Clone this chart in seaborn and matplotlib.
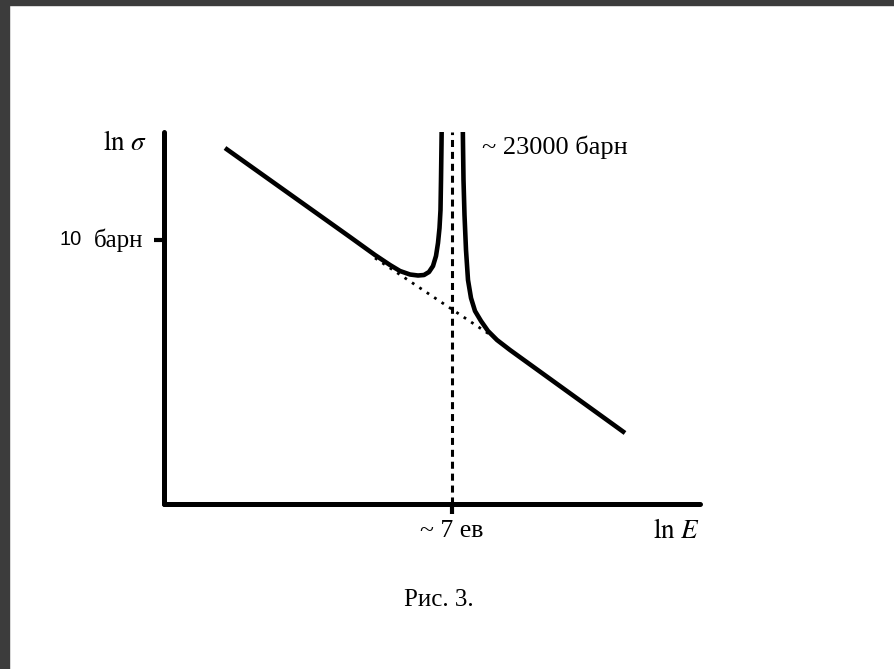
import matplotlib
matplotlib.use("Agg")
import matplotlib.pyplot as plt
import seaborn as sns
import pandas as pd
from matplotlib.patches import Rectangle
import matplotlib.transforms as mtransforms

# ---- data (arbitrary ln-units) ----
curve_lnE = [6.1, 13.6, 18.6, 21.1, 22.6, 23.6, 24.6, 25.4, 26.0, 26.5, 26.9, 27.2,
             27.4, 27.55, 27.65, 27.7, 27.75, 27.8, 29.85, 29.9, 29.95, 30.05, 30.2,
             30.4, 30.7, 31.1, 31.7, 32.4, 33.3, 34.6, 46.1]
curve_lnS = [35.6, 30.26, 26.7, 24.9, 23.9, 23.3, 22.95, 22.85, 22.9, 23.2, 23.8, 24.8,
             26.1, 27.6, 29.4, 32.4, 36.0, 40.0, 40.0, 36.0, 32.4, 28.9, 25.4,
             22.4, 20.6, 19.3, 18.3, 17.3, 16.4, 15.4, 7.1]
bg_lnE = [21.1, 32.8]          # dotted 1/v background under the resonance
bg_lnS = [24.6, 16.8]
res_lnE = 28.77                # resonance position (~7 eV)
tick_lnS = 26.4                # "10 барн"
xlim = (0, 53.6)
ylim = (0, 37.2)

W, H, DPI = 895, 669, 100
sns.set_theme(style="white")
plt.rcParams["mathtext.fontset"] = "stix"
plt.rcParams["font.family"] = ["Liberation Serif", "DejaVu Serif"]
plt.rcParams["text.color"] = "black"
plt.rcParams["xtick.color"] = "black"
plt.rcParams["ytick.color"] = "black"
plt.rcParams["xtick.labelcolor"] = "black"

fig = plt.figure(figsize=(W / DPI, H / DPI), dpi=DPI)
fig.patch.set_facecolor("white")
ax = fig.add_axes([164 / W, 1 - 504 / H, (700 - 164) / W, (504 - 132) / H])
ax.set_facecolor("white")

df_c = pd.DataFrame({"lnE": curve_lnE, "lnS": curve_lnS})
df_b = pd.DataFrame({"lnE": bg_lnE, "lnS": bg_lnS})
sns.lineplot(data=df_c, x="lnE", y="lnS", sort=False, estimator=None, ax=ax,
             color="black", linewidth=3.3, solid_capstyle="butt", solid_joinstyle="round")
sns.lineplot(data=df_b, x="lnE", y="lnS", sort=False, estimator=None, ax=ax,
             color="black", linewidth=2.0, dashes=False, linestyle=(0, (1, 2.2)))
ax.axvline(res_lnE, color="black", linewidth=2.2, linestyle=(0, (2.3, 1.6)))

ax.set_xlim(*xlim)
ax.set_ylim(*ylim)
for s in ["top", "right"]:
    ax.spines[s].set_visible(False)
for s in ["left", "bottom"]:
    ax.spines[s].set_linewidth(3.6)
    ax.spines[s].set_color("black")
    ax.spines[s].set_capstyle("round")

ax.set_xticks([res_lnE], labels=["~ 7 ев"])
ax.set_yticks([tick_lnS], labels=[""])
ax.tick_params(axis="x", direction="out", length=7.5, width=3.0, color="black",
               pad=4, labelsize=18.5, bottom=True, labelcolor="black")
ax.tick_params(axis="y", direction="out", length=7.5, width=3.0, color="black",
               left=True, pad=0)
ax.set_xlabel("")
ax.set_ylabel("")

# y tick label with mixed fonts
ty = mtransforms.blended_transform_factory(fig.transFigure, ax.transData)
ax.text(143 / W, tick_lnS, "барн", transform=ty, ha="right", va="center",
        fontsize=18, family=["Liberation Serif"], clip_on=False, color="black")
ax.text(60 / W, tick_lnS, "10", transform=ty, ha="left", va="center",
        fontsize=14.5, family=["Liberation Sans"], clip_on=False, color="black")

# axis titles and annotations
fig.text(147 / W, 1 - 143 / H, r"$\ln\,\sigma$", ha="right", va="center", fontsize=19.5,
         color="black")
fig.text(700 / W, 1 - 532 / H, r"$\ln\,E$", ha="right", va="center", fontsize=19.5,
         color="black")
fig.text(482 / W, 1 - 147 / H, "~ 23000 барн", ha="left", va="center", fontsize=19,
         color="black")
fig.text(439 / W, 1 - 600 / H, "Рис. 3.", ha="center", va="center", fontsize=18,
         color="black")

# dark frame edges of the reference screenshot
fig.patches.append(Rectangle((0, 1 - 5 / H), 1, 5 / H, transform=fig.transFigure,
                             color="#3c3c3c", zorder=10))
fig.patches.append(Rectangle((0, 0), 9 / W, 1, transform=fig.transFigure,
                             color="#3c3c3c", zorder=10))

fig.savefig("out.png", dpi=DPI)
